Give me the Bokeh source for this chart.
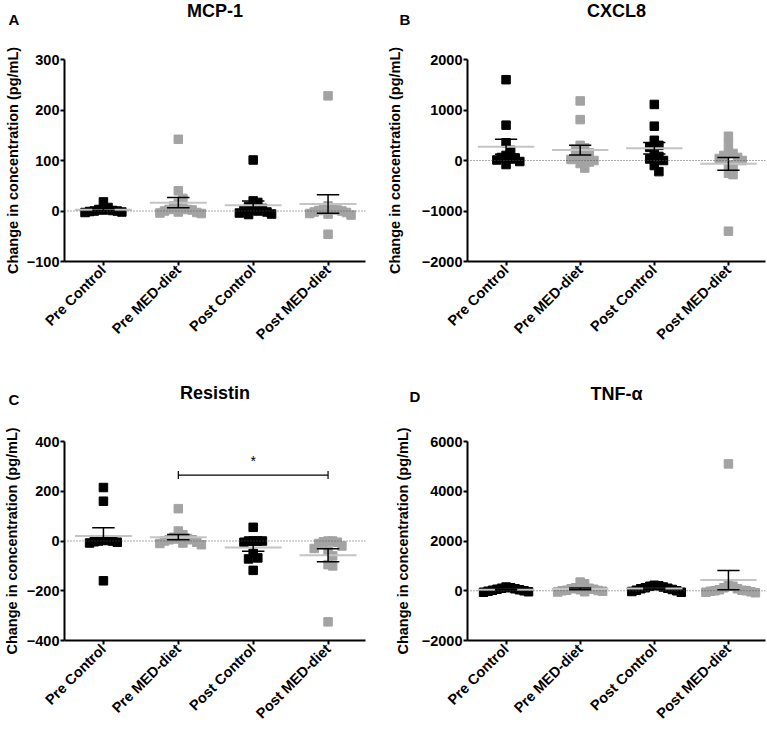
import numpy as np
from bokeh.plotting import figure
from bokeh.layouts import gridplot
from bokeh.models import Range1d, FixedTicker, Span, Title
from bokeh.embed import file_html
from bokeh.resources import INLINE

# ---------------- data ----------------
categories = ["Pre Control", "Pre MED-diet", "Post Control", "Post MED-diet"]

mcp1_pre_control = [18, 7, 3, 1, 0, 0, -1, -2, -3, 2]
mcp1_pre_med = [142, 40, 25, 15, 10, 5, 3, 2, 0, -2, -3, -5, -4, 3]
mcp1_post_control = [101, 20, 17, 9, 5, 3, 0, -2, -4, -6, -7, 2]
mcp1_post_med = [228, -46, 10, 5, 3, 2, 0, -2, -3, -5, -6, -8, 1]

cxcl8_pre_control = [1600, 700, 350, 200, 100, 60, 50, 30, 10, -20, -80]
cxcl8_pre_med = [1180, 810, 300, 250, 220, 150, 100, 60, 40, 20, 0, -30, -60, -150]
cxcl8_post_control = [1110, 680, 400, 300, 260, 120, 80, 30, 0, -100, -220]
cxcl8_post_med = [480, 320, 150, 140, 100, 60, 40, 0, -90, -120, -250, -280, -1400]

resistin_pre_control = [215, 160, -160, 5, 0, 0, -3, -5, -8, 2]
resistin_pre_med = [130, 40, 25, 15, 10, 8, 5, 0, -5, -8, -10, -15, 5]
resistin_post_control = [55, 0, 0, 0, 0, -5, -50, -68, -72, -118]
resistin_post_med = [-325, -100, -95, -60, -40, -30, -20, -10, -5, 0, 0, -3]

tnf_pre_control = [150, 120, 100, 80, 60, 40, 20, 0, -20, -40, -60]
tnf_pre_med = [350, 280, 120, 100, 80, 60, 40, 20, 0, -20, -40, -50, 10]
tnf_post_control = [220, 200, 180, 150, 120, 100, 80, 50, 20, 0, -30, -60]
tnf_post_med = [5100, 220, 180, 120, 80, 40, 20, 0, -20, -40, -60, -80, 0]

mcp1_ticks = [-100, 0, 100, 200, 300]
cxcl8_ticks = [-2000, -1000, 0, 1000, 2000]
resistin_ticks = [-400, -200, 0, 200, 400]
tnf_ticks = [-2000, 0, 2000, 4000, 6000]

resistin_sig_pair = [1, 3]
resistin_sig_y = 265
resistin_sig_text = "*"

group_colors = ["#000000", "#a3a3a3", "#000000", "#a3a3a3"]
FONT = "Liberation Sans"
X_START, X_END = -0.52, 3.5


def swarm(vals, ppu, ppc, size):
    vals = np.asarray(vals, dtype=float)
    step = size * 0.55
    vthr = size * 0.9
    placed = []
    offs = np.zeros(len(vals))
    for i in np.argsort(-vals):
        y = vals[i] * ppu
        cands = [0.0]
        for j in range(1, 40):
            cands += [j * step, -j * step]
        for c in cands:
            ok = True
            for (px, py) in placed:
                if abs(c - px) < step * 0.999 and abs(y - py) < vthr:
                    ok = False
                    break
            if ok:
                break
        placed.append((c, y))
        offs[i] = c / ppc
    return offs


def make_panel(letter, title, groups, yr, yticks, width, height, left, right,
               top, bottom, label_standoff, letter_dx, letter_above, title_above,
               sig=None):
    p = figure(width=width, height=height, output_backend="svg",
               toolbar_location=None,
               x_range=Range1d(X_START, X_END), y_range=Range1d(yr[0], yr[1]),
               min_border_left=left, min_border_right=right,
               min_border_top=top, min_border_bottom=bottom)
    # stack above the frame: spacer (closest), letter, then main title (outermost)
    s_sp = letter_above - 7.5 - 13
    s_title = 2 * (title_above - letter_above - 20.5)
    p.add_layout(Title(text=" ", text_font_size="10px", standoff=s_sp), "above")
    p.add_layout(Title(text=letter, align="left", offset=letter_dx,
                       text_font=FONT, text_font_style="bold",
                       text_font_size="15px", text_color="black",
                       standoff=0), "above")
    p.title.text = title
    p.title.align = "center"
    p.title.text_font = FONT
    p.title.text_font_style = "bold"
    p.title.text_font_size = "18px"
    p.title.text_color = "black"
    p.title.standoff = s_title

    p.outline_line_color = None
    p.xgrid.visible = False
    p.ygrid.visible = False
    p.background_fill_color = "white"
    p.border_fill_color = "white"

    for ax in (p.xaxis[0], p.yaxis[0]):
        ax.axis_line_width = 2
        ax.axis_line_color = "black"
        ax.major_tick_line_width = 2
        ax.major_tick_line_color = "black"
        ax.major_tick_out = 4
        ax.major_tick_in = 0
        ax.minor_tick_line_color = None
        ax.major_label_text_font = FONT
        ax.major_label_text_font_style = "bold"
        ax.major_label_text_color = "black"
        ax.major_label_standoff = 1

    p.yaxis.ticker = FixedTicker(ticks=yticks)
    p.yaxis.major_label_text_font_size = "14.5px"
    p.yaxis.axis_label = "Change in concentration (pg/mL)"
    p.yaxis.axis_label_text_font = FONT
    p.yaxis.axis_label_text_font_style = "bold"
    p.yaxis.axis_label_text_font_size = "14.5px"
    p.yaxis.axis_label_text_color = "black"
    p.yaxis.axis_label_standoff = label_standoff

    p.xaxis.ticker = FixedTicker(ticks=[0, 1, 2, 3])
    p.xaxis.major_label_overrides = {i: c for i, c in enumerate(categories)}
    p.xaxis.major_label_orientation = np.pi / 4
    p.xaxis.major_label_text_font_size = "14.5px"
    p.xaxis.major_label_standoff = 2

    p.add_layout(Span(location=0, dimension="width", line_color="#555555",
                      line_width=1, line_dash="1 2"))

    frame_w = width - left - right
    frame_h = height - top - bottom
    ppu = frame_h / (yr[1] - yr[0])
    ppc = frame_w / (X_END - X_START)
    msize = 8.5

    for gi, vals in enumerate(groups):
        offs = swarm(vals, ppu, ppc, msize)
        xs = gi + offs
        p.scatter(x=xs, y=vals, marker="square", size=msize,
                  fill_color=group_colors[gi], line_color=group_colors[gi])

    for gi, vals in enumerate(groups):
        v = np.asarray(vals, dtype=float)
        m = v.mean()
        sem = v.std(ddof=1) / np.sqrt(len(v))
        p.segment(x0=[gi - 0.38], y0=[m], x1=[gi + 0.38], y1=[m],
                  line_color="#c4c4c4", line_width=2)
        p.segment(x0=[gi], y0=[m - sem], x1=[gi], y1=[m + sem],
                  line_color="black", line_width=1.5)
        p.segment(x0=[gi - 0.15, gi - 0.15], y0=[m - sem, m + sem],
                  x1=[gi + 0.15, gi + 0.15], y1=[m - sem, m + sem],
                  line_color="black", line_width=1.5)

    if sig is not None:
        (a, b), sy, stext = sig
        tick = 4 / ppu
        p.segment(x0=[a, a, b], y0=[sy, sy - tick, sy - tick],
                  x1=[b, a, b], y1=[sy, sy + tick, sy + tick],
                  line_color="black", line_width=1.2)
        p.text(x=[(a + b) / 2], y=[sy + 6 / ppu], text=[stext],
               text_font_size="14px", text_align="center",
               text_baseline="bottom", text_color="black")
    return p


pA = make_panel("A", "MCP-1",
                [mcp1_pre_control, mcp1_pre_med, mcp1_post_control, mcp1_post_med],
                (-100, 300), mcp1_ticks, 383, 383, 59, 18, 59, 122, 3, -56, 39, 47)
pB = make_panel("B", "CXCL8",
                [cxcl8_pre_control, cxcl8_pre_med, cxcl8_post_control, cxcl8_post_med],
                (-2000, 2000), cxcl8_ticks, 384, 383, 78, 2, 59, 122, 16, -68, 39, 47)
pC = make_panel("C", "Resistin",
                [resistin_pre_control, resistin_pre_med, resistin_post_control, resistin_post_med],
                (-400, 400), resistin_ticks, 383, 355, 63, 15, 58, 96, 4, -56, 41, 47,
                sig=(resistin_sig_pair, resistin_sig_y, resistin_sig_text))
pD = make_panel("D", "TNF-α",
                [tnf_pre_control, tnf_pre_med, tnf_post_control, tnf_post_med],
                (-2000, 6000), tnf_ticks, 384, 355, 73, 1, 56, 98, 8, -58, 44, 46)

grid = gridplot([[pA, pB], [pC, pD]], toolbar_location=None)

open("out.html", "w").write(file_html(grid, INLINE))
